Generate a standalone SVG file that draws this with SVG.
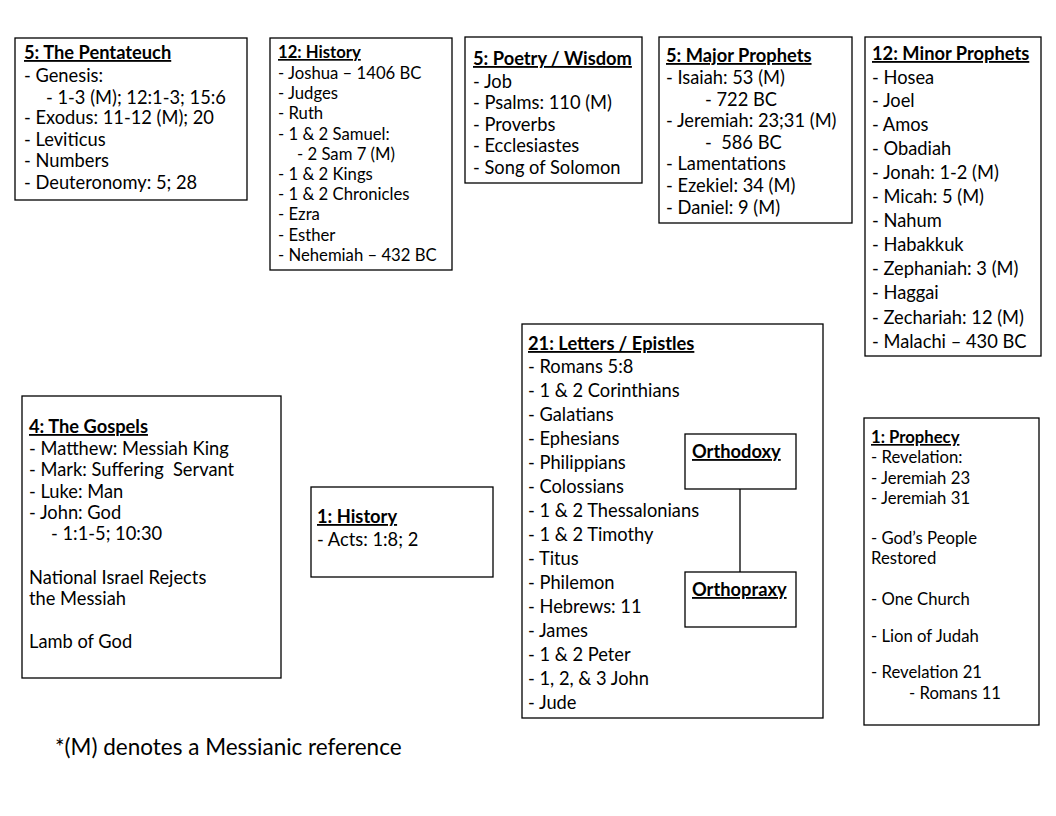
<svg xmlns="http://www.w3.org/2000/svg" width="1056" height="816" viewBox="0 0 1056 816">
<style>
.box{fill:#fff;stroke:#000;stroke-width:1.3}
text{font-family:Lato,"Liberation Sans",sans-serif;fill:#000}
.a{font-size:18.3px}
.b{font-size:16.7px}
.h{font-weight:bold;text-decoration:underline}
.f{font-size:22.5px}
.ln{stroke:#000;stroke-width:1.3;fill:none}
</style>
<rect width="1056" height="816" fill="#fff"/>

<g id="pentateuch">
<rect class="box" x="15" y="38" width="232" height="162"/>
<text class="a h" x="24" y="59">5: The Pentateuch</text>
<text class="a" x="24" y="82">- Genesis:</text>
<text class="a" x="46" y="104">- 1-3 (M); 12:1-3; 15:6</text>
<text class="a" x="24" y="124">- Exodus: 11-12 (M); 20</text>
<text class="a" x="24" y="146">- Leviticus</text>
<text class="a" x="24" y="167">- Numbers</text>
<text class="a" x="24" y="189">- Deuteronomy: 5; 28</text>
</g>

<g id="history12">
<rect class="box" x="270" y="38" width="182" height="232"/>
<text class="b h" x="278" y="58">12: History</text>
<text class="b" x="278" y="79">- Joshua – 1406 BC</text>
<text class="b" x="278" y="99">- Judges</text>
<text class="b" x="278" y="119">- Ruth</text>
<text class="b" x="278" y="140">- 1 &amp; 2 Samuel:</text>
<text class="b" x="297" y="160">- 2 Sam 7 (M)</text>
<text class="b" x="278" y="180">- 1 &amp; 2 Kings</text>
<text class="b" x="278" y="200">- 1 &amp; 2 Chronicles</text>
<text class="b" x="278" y="220">- Ezra</text>
<text class="b" x="278" y="241">- Esther</text>
<text class="b" x="278" y="261">- Nehemiah – 432 BC</text>
</g>

<g id="poetry">
<rect class="box" x="465" y="37" width="177" height="146"/>
<text class="a h" x="473" y="65">5: Poetry / Wisdom</text>
<text class="a" x="473" y="88">- Job</text>
<text class="a" x="473" y="109">- Psalms: 110 (M)</text>
<text class="a" x="473" y="131">- Proverbs</text>
<text class="a" x="473" y="152">- Ecclesiastes</text>
<text class="a" x="473" y="174">- Song of Solomon</text>
</g>

<g id="major-prophets">
<rect class="box" x="659" y="37" width="193" height="186"/>
<text class="a h" x="666" y="62">5: Major Prophets</text>
<text class="a" x="666" y="84">- Isaiah: 53 (M)</text>
<text class="a" x="705" y="106">- 722 BC</text>
<text class="a" x="666" y="127">- Jeremiah: 23;31 (M)</text>
<text class="a" x="705" y="149" xml:space="preserve">-  586 BC</text>
<text class="a" x="666" y="170">- Lamentations</text>
<text class="a" x="666" y="192">- Ezekiel: 34 (M)</text>
<text class="a" x="666" y="214">- Daniel: 9 (M)</text>
</g>

<g id="minor-prophets">
<rect class="box" x="865" y="37" width="176" height="319"/>
<text class="a h" x="872" y="60">12: Minor Prophets</text>
<text class="a" x="872" y="84">- Hosea</text>
<text class="a" x="872" y="107">- Joel</text>
<text class="a" x="872" y="131">- Amos</text>
<text class="a" x="872" y="155">- Obadiah</text>
<text class="a" x="872" y="179">- Jonah: 1-2 (M)</text>
<text class="a" x="872" y="203">- Micah: 5 (M)</text>
<text class="a" x="872" y="227">- Nahum</text>
<text class="a" x="872" y="251">- Habakkuk</text>
<text class="a" x="872" y="275">- Zephaniah: 3 (M)</text>
<text class="a" x="872" y="299">- Haggai</text>
<text class="a" x="872" y="324">- Zechariah: 12 (M)</text>
<text class="a" x="872" y="348">- Malachi – 430 BC</text>
</g>

<g id="letters">
<rect class="box" x="522" y="324" width="301" height="394"/>
<text class="a h" x="528" y="350">21: Letters / Epistles</text>
<text class="a" x="528" y="373">- Romans 5:8</text>
<text class="a" x="528" y="397">- 1 &amp; 2 Corinthians</text>
<text class="a" x="528" y="421">- Galatians</text>
<text class="a" x="528" y="445">- Ephesians</text>
<text class="a" x="528" y="469">- Philippians</text>
<text class="a" x="528" y="493">- Colossians</text>
<text class="a" x="528" y="517">- 1 &amp; 2 Thessalonians</text>
<text class="a" x="528" y="541">- 1 &amp; 2 Timothy</text>
<text class="a" x="528" y="565">- Titus</text>
<text class="a" x="528" y="589">- Philemon</text>
<text class="a" x="528" y="613">- Hebrews: 11</text>
<text class="a" x="528" y="637">- James</text>
<text class="a" x="528" y="661">- 1 &amp; 2 Peter</text>
<text class="a" x="528" y="685">- 1, 2, &amp; 3 John</text>
<text class="a" x="528" y="709">- Jude</text>
</g>

<g id="connectors">
<line class="ln" x1="740" y1="489" x2="740" y2="572"/>
</g>

<g id="orthodoxy">
<rect class="box" x="685" y="434" width="111" height="55"/>
<text class="a h" x="692" y="458">Orthodoxy</text>
</g>

<g id="orthopraxy">
<rect class="box" x="685" y="572" width="111" height="55"/>
<text class="a h" x="692" y="596">Orthopraxy</text>
</g>

<g id="gospels">
<rect class="box" x="22" y="396" width="259" height="282"/>
<text class="a h" x="29" y="433">4: The Gospels</text>
<text class="a" x="29" y="455">- Matthew: Messiah King</text>
<text class="a" x="29" y="476" xml:space="preserve">- Mark: Suffering  Servant</text>
<text class="a" x="29" y="498">- Luke: Man</text>
<text class="a" x="29" y="519">- John: God</text>
<text class="a" x="51" y="540">- 1:1-5; 10:30</text>
<text class="a" x="29" y="584">National Israel Rejects</text>
<text class="a" x="29" y="605">the Messiah</text>
<text class="a" x="29" y="648">Lamb of God</text>
</g>

<g id="history1">
<rect class="box" x="311" y="487" width="182" height="90"/>
<text class="a h" x="317" y="523">1: History</text>
<text class="a" x="317" y="546">- Acts: 1:8; 2</text>
</g>

<g id="prophecy">
<rect class="box" x="864" y="418" width="175" height="307"/>
<text class="b h" x="871" y="443">1: Prophecy</text>
<text class="b" x="871" y="463">- Revelation:</text>
<text class="b" x="871" y="484">- Jeremiah 23</text>
<text class="b" x="871" y="504">- Jeremiah 31</text>
<text class="b" x="871" y="544">- God’s People</text>
<text class="b" x="871" y="564">Restored</text>
<text class="b" x="871" y="605">- One Church</text>
<text class="b" x="871" y="642">- Lion of Judah</text>
<text class="b" x="871" y="678">- Revelation 21</text>
<text class="b" x="909" y="699">- Romans 11</text>
</g>

<text class="f" x="55" y="755">*(M) denotes a Messianic reference</text>
</svg>
